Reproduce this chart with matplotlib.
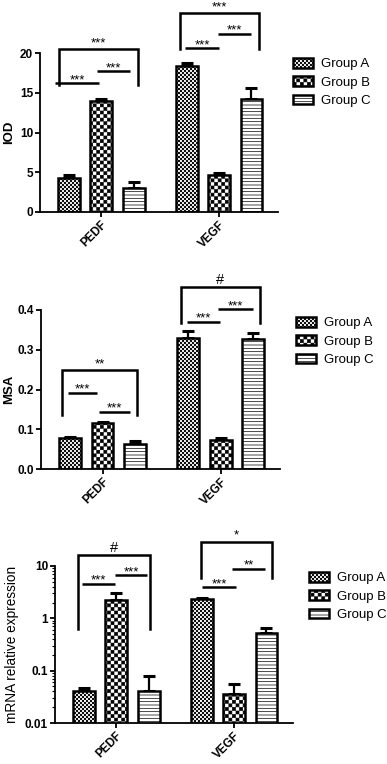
import warnings
import numpy as np
import matplotlib
matplotlib.use('Agg')
import matplotlib.pyplot as plt
import matplotlib.hatch as mhatch
from matplotlib.path import Path

warnings.filterwarnings('ignore')

plt.rcParams['font.family'] = ['Liberation Sans', 'DejaVu Sans']
plt.rcParams['hatch.linewidth'] = 0.5
plt.rcParams['hatch.color'] = 'black'

# ---- data ----
genes = ['PEDF', 'VEGF']
groups = ['Group A', 'Group B', 'Group C']

iod_a = [4.3, 18.4]
iod_a_err = [0.35, 0.3]
iod_b = [13.9, 4.65]
iod_b_err = [0.3, 0.3]
iod_c = [3.05, 14.2]
iod_c_err = [0.67, 1.35]

msa_a = [0.077, 0.330]
msa_a_err = [0.004, 0.018]
msa_b = [0.115, 0.073]
msa_b_err = [0.002, 0.004]
msa_c = [0.062, 0.327]
msa_c_err = [0.008, 0.016]

mrna_a = [0.041, 2.3]
mrna_a_err = [0.006, 0.2]
mrna_b = [2.24, 0.036]
mrna_b_err = [0.8, 0.019]
mrna_c = [0.041, 0.52]
mrna_c_err = [0.039, 0.13]

# significance marks: (gene index, x start, x end, y top, y drop, label)
# y drop = None -> plain line
iod_sig = [(0, -0.356, 0.314, 20.5, 16.0, '***'),
           (0, -0.39, -0.017, 16.2, None, '***'),
           (0, -0.034, 0.246, 17.7, None, '***'),
           (1, -0.33, 0.34, 25.0, 20.5, '***'),
           (1, -0.29, 0.0, 20.6, None, '***'),
           (1, -0.01, 0.27, 22.4, None, '***')]
msa_sig = [(0, -0.345, 0.294, 0.249, 0.136, '**'),
           (0, -0.294, -0.05, 0.191, None, '***'),
           (0, -0.034, 0.235, 0.143, None, '***'),
           (1, -0.336, 0.328, 0.458, 0.367, '#'),
           (1, -0.286, -0.008, 0.370, None, '***'),
           (1, -0.025, 0.27, 0.402, None, '***')]
mrna_sig = [(0, -0.322, 0.288, 16.5, 0.62, '#'),
            (0, -0.288, -0.008, 4.6, None, '***'),
            (0, -0.008, 0.263, 6.6, None, '***'),
            (1, -0.28, 0.322, 29.0, 6.0, '*'),
            (1, -0.271, 0.017, 3.9, None, '***'),
            (1, -0.017, 0.263, 8.9, None, '**')]


# checkerboard hatches (GraphPad-like fills)
class CheckerHatch(mhatch.HatchPatternBase):
    char = 'k'
    cells = 28

    def __init__(self, hatch, density):
        self.num_cells = hatch.count(self.char) * self.cells
        self.num_vertices = (self.num_cells ** 2 // 2) * 5

    def set_vertices_and_codes(self, vertices, codes):
        n = self.num_cells
        step = 1.0 / n
        s = 0.003
        k = 0
        for i in range(n):
            for j in range(n):
                if (i + j) % 2 == 0:
                    x0, y0 = i * step + s, j * step + s
                    x1, y1 = (i + 1) * step - s, (j + 1) * step - s
                    vertices[k:k + 5] = [[x0, y0], [x1, y0], [x1, y1], [x0, y1], [x0, y0]]
                    codes[k:k + 5] = [Path.MOVETO, Path.LINETO, Path.LINETO,
                                      Path.LINETO, Path.CLOSEPOLY]
                    k += 5


class FineCheckerHatch(CheckerHatch):
    char = 'q'
    cells = 50


mhatch._hatch_types.append(CheckerHatch)
mhatch._hatch_types.append(FineCheckerHatch)

hatches = ['q', 'k', '-----']
offsets = [-0.275, 0.0, 0.275]
width = 0.185


def draw_panel(ax, series, errs, sig, log=False):
    x = np.arange(len(genes))
    if log:
        ax.set_yscale('log')
    for i in range(3):
        ax.bar(x + offsets[i], series[i], width, color='white', edgecolor='black',
               linewidth=1.8, hatch=hatches[i], label=groups[i], zorder=2)
        ax.errorbar(x + offsets[i], series[i], yerr=[np.zeros(len(genes)), errs[i]],
                    fmt='none', ecolor='black', elinewidth=1.6, capsize=4.5, capthick=2.2,
                    zorder=1)
    for g, x1, x2, ytop, ydrop, lab in sig:
        xs = [g + x1, g + x2]
        if ydrop is None:
            ax.plot(xs, [ytop, ytop], color='black', lw=1.8, clip_on=False,
                    solid_capstyle='butt')
            ax.annotate(lab, ((xs[0] + xs[1]) / 2, ytop), xytext=(0, -2),
                        textcoords='offset points', ha='center', va='bottom',
                        fontsize=9.5, annotation_clip=False)
        else:
            ax.plot([xs[0], xs[0], xs[1], xs[1]], [ydrop, ytop, ytop, ydrop],
                    color='black', lw=1.8, clip_on=False, solid_joinstyle='miter')
            fs = 10.5 if lab == '#' else 9.5
            ax.annotate(lab, ((xs[0] + xs[1]) / 2, ytop), xytext=(0, 0),
                        textcoords='offset points', ha='center', va='bottom',
                        fontsize=fs, annotation_clip=False)
    ax.set_xlim(-0.52, 1.5)
    ax.set_xticks(x)
    ax.set_xticklabels(genes, rotation=45, ha='right', rotation_mode='anchor',
                       fontsize=8.5, fontweight='bold')
    for sp in ['top', 'right']:
        ax.spines[sp].set_visible(False)
    for sp in ['left', 'bottom']:
        ax.spines[sp].set_linewidth(1.3)
    ax.tick_params(axis='both', which='major', direction='out', length=3.5, width=1.3,
                   labelsize=8.5, pad=1.5)
    ax.tick_params(axis='y', which='minor', direction='out', length=2, width=0.8)


fig = plt.figure(figsize=(3.87, 7.64), dpi=100)
W, H = 387.0, 764.0


def axes_px(left, top, right, bottom):
    return fig.add_axes([left / W, 1 - bottom / H, (right - left) / W, (bottom - top) / H])


# panel 1: IOD
ax1 = axes_px(40, 53, 278, 212)
draw_panel(ax1, [iod_a, iod_b, iod_c], [iod_a_err, iod_b_err, iod_c_err], iod_sig)
ax1.set_ylim(0, 20)
ax1.set_yticks([0, 5, 10, 15, 20])
ax1.set_yticklabels(['0', '5', '10', '15', '20'], fontweight='bold')
ax1.set_ylabel('IOD', fontsize=9.5, fontweight='bold', va='center')
ax1.yaxis.set_label_coords(-0.13, 0.5)

# panel 2: MSA
ax2 = axes_px(41, 310, 280, 469)
draw_panel(ax2, [msa_a, msa_b, msa_c], [msa_a_err, msa_b_err, msa_c_err], msa_sig)
ax2.set_ylim(0, 0.4)
ax2.set_yticks([0, 0.1, 0.2, 0.3, 0.4])
ax2.set_yticklabels(['0.0', '0.1', '0.2', '0.3', '0.4'], fontweight='bold')
ax2.set_ylabel('MSA', fontsize=9.5, fontweight='bold', va='center')
ax2.yaxis.set_label_coords(-0.135, 0.5)

# panel 3: mRNA
ax3 = axes_px(55, 566, 293, 723)
draw_panel(ax3, [mrna_a, mrna_b, mrna_c], [mrna_a_err, mrna_b_err, mrna_c_err], mrna_sig,
           log=True)
ax3.set_ylim(0.01, 10)
ax3.set_yticks([0.01, 0.1, 1, 10])
ax3.set_yticklabels(['0.01', '0.1', '1', '10'], fontweight='bold')
ax3.set_ylabel('mRNA relative expression', fontsize=9.8, va='center')
ax3.yaxis.set_label_coords(-0.18, 0.5)

for ax, (lx, ly) in zip([ax1, ax2, ax3], [(293, 58), (296, 317), (309, 572)]):
    ax.legend(loc='upper left', bbox_to_anchor=(lx / W, 1 - ly / H),
              bbox_transform=fig.transFigure, frameon=False, fontsize=9.5,
              handlelength=1.5, handleheight=0.75, handletextpad=0.65,
              labelspacing=0.45, borderpad=0, borderaxespad=0)

fig.savefig('out.png', dpi=100)
